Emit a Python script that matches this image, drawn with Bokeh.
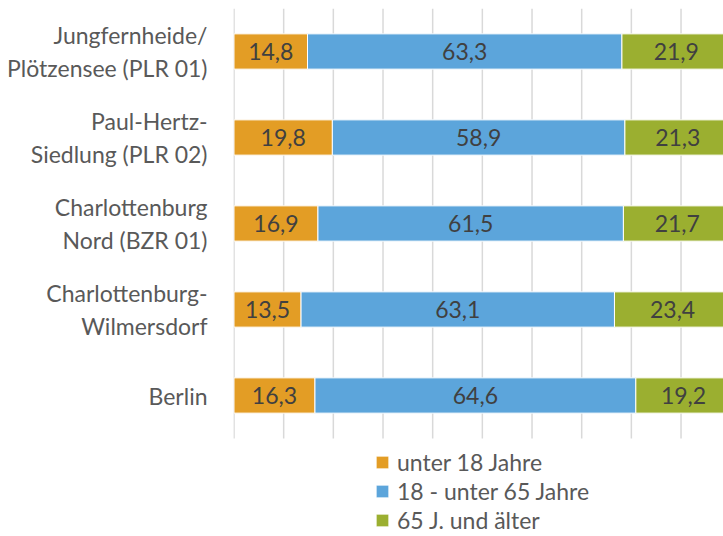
from bokeh.plotting import figure
from bokeh.models import ColumnDataSource, Range1d, Legend, LegendItem, FixedTicker
from bokeh.core.properties import value
from bokeh.embed import file_html
from bokeh.resources import INLINE

regions = ["Jungfernheide/\nPlötzensee (PLR 01)", "Paul-Hertz-\nSiedlung (PLR 02)",
           "Charlottenburg\nNord (BZR 01)", "Charlottenburg-\nWilmersdorf", "Berlin"]
under18 = [14.8, 19.8, 16.9, 13.5, 16.3]
age18_65 = [63.3, 58.9, 61.5, 63.1, 64.6]
over65 = [21.9, 21.3, 21.7, 23.4, 19.2]
series_names = ["unter 18 Jahre", "18 - unter 65 Jahre", "65 J. und älter"]
colors = ["#E39D25", "#5CA5DB", "#9BAF30"]
grid_ticks = list(range(0, 100, 10))

FONT = "Lato"
FS = "23px"

ROW_PX = 86
FRAME_H = 528
pos = list(range(len(regions)))  # row index, 0 = top

p = figure(width=723, height=536, output_backend="svg", toolbar_location=None,
           x_range=Range1d(-0.1, 98.55),
           y_range=Range1d(start=-0.5 + FRAME_H / ROW_PX, end=-0.5),
           x_axis_location=None,
           min_border_left=233, min_border_right=0, min_border_top=8, min_border_bottom=0)
p.outline_line_color = None
p.xgrid.visible = False
p.ygrid.visible = False

# vertical gridlines spanning the category band only
p.segment(x0=grid_ticks, x1=grid_ticks, y0=[-0.5] * len(grid_ticks),
          y1=[len(regions) - 0.5] * len(grid_ticks), line_color="#D9D9D9", line_width=1.5)

yax = p.yaxis[0]
yax.ticker = FixedTicker(ticks=pos)
yax.major_label_overrides = {i: lab for i, lab in zip(pos, regions)}
yax.axis_line_color = None
yax.major_tick_line_color = None
yax.minor_tick_line_color = None
yax.major_label_standoff = 20
yax.major_label_text_font = FONT
yax.major_label_text_font_size = FS
yax.major_label_text_color = "#595959"
yax.major_label_text_line_height = 1.15

series = [under18, age18_65, over65]
renderers = []
left = [0.0] * len(regions)
for name, vals, col in zip(series_names, series, colors):
    right = [l + v for l, v in zip(left, vals)]
    mid = [(l + r) / 2 for l, r in zip(left, right)]
    src = ColumnDataSource(dict(y=pos, left=left, right=right, mid=mid,
                                lab=[f"{v:.1f}".replace(".", ",") for v in vals]))
    r = p.hbar(y="y", left="left", right="right", height=0.41, source=src,
               fill_color=col, line_color="white", line_width=1)
    renderers.append(r)
    p.text(x="mid", y="y", text="lab", source=src, text_align="center", text_baseline="middle",
           text_font=value(FONT), text_font_size=FS, text_color="#404040")
    left = right

legend = Legend(items=[LegendItem(label=n, renderers=[r]) for n, r in zip(series_names, renderers)],
                location=(141, 2), orientation="vertical")
legend.label_text_font = FONT
legend.label_text_font_size = FS
legend.label_text_color = "#595959"
legend.glyph_width = 16
legend.glyph_height = 16
legend.label_height = 20
legend.spacing = 1
legend.padding = 0
legend.margin = 0
legend.label_standoff = 7
legend.border_line_color = None
legend.background_fill_alpha = 0
p.add_layout(legend, "center")

open("out.html", "w").write(file_html(p, INLINE))
